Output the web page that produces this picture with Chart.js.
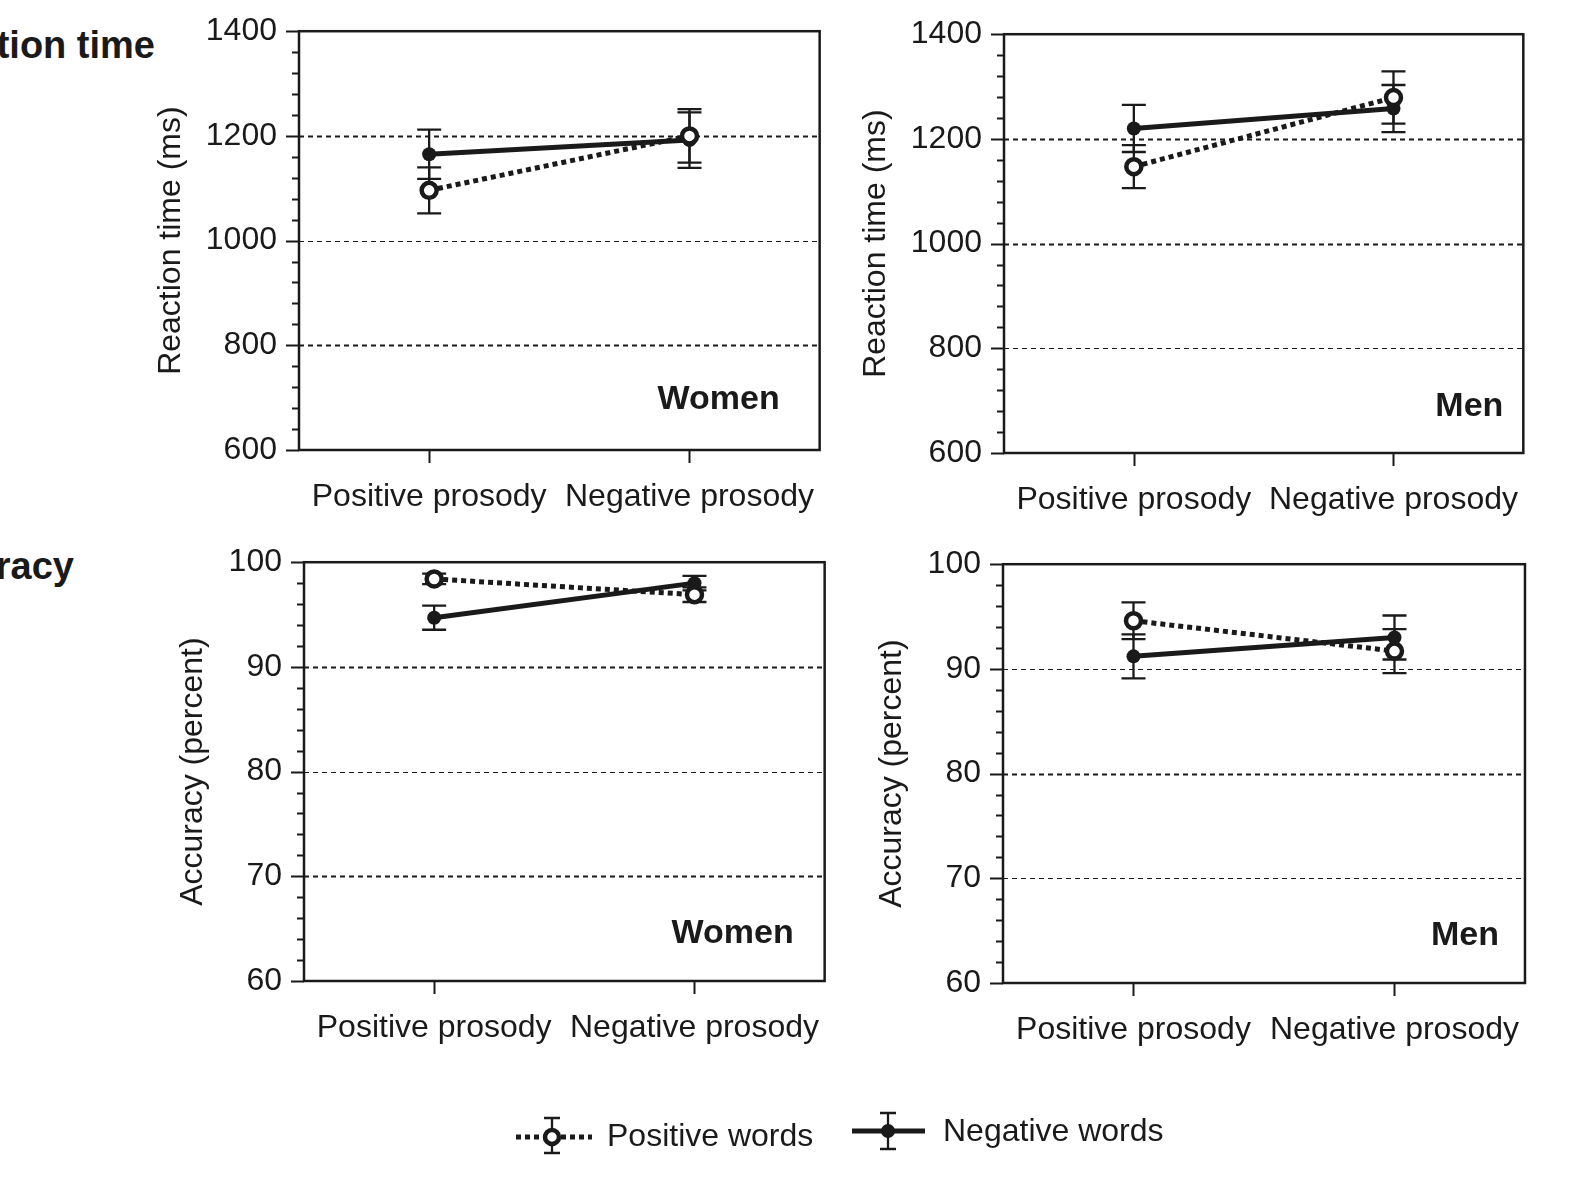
<!DOCTYPE html>
<html>
<head>
<meta charset="utf-8">
<title>Reaction time and accuracy by prosody</title>
<script src="https://cdn.jsdelivr.net/npm/chart.js@4.4.1/dist/chart.umd.min.js"></script>
<style>
    html, body {
        margin: 0;
        padding: 0;
        background: #fff;
    }
    body {
        position: relative;
        width: 1591px;
        height: 1197px;
        overflow: hidden;
        font-family: 'Liberation Sans', Arial, Helvetica, sans-serif;
        color: #1a1a1a;
    }
    canvas { position: absolute; }
    .row-title {
        position: absolute;
        white-space: nowrap;
        font-weight: bold;
        font-size: 38px;
        line-height: 38px;
        text-align: right;
    }
    .legend-text {
        position: absolute;
        white-space: nowrap;
        font-size: 32px;
        line-height: 32px;
    }
</style>
</head>
<body>

<div class="row-title" style="right:1436px; top:26px;">Reaction time</div>
<div class="row-title" style="right:1517px; top:547px;">Accuracy</div>

<canvas id="womenRt"></canvas>
<canvas id="menRt"></canvas>
<canvas id="womenAcc"></canvas>
<canvas id="menAcc"></canvas>

<canvas id="legend" width="450" height="70" style="left:500px; top:1100px;"></canvas>
<div class="legend-text" style="left:607px; top:1119px;">Positive words</div>
<div class="legend-text" style="left:943px; top:1114px;">Negative words</div>

<script>
// Data (means with error bars)
const categories = ['Positive prosody', 'Negative prosody'];
const seriesNames = ['Positive words', 'Negative words'];

// Reaction time (ms)
const womenRtPositive = [1096, 1200];
const womenRtPositiveErr = [44, 51];
const womenRtNegative = [1165, 1192];
const womenRtNegativeErr = [47, 53];

const menRtPositive = [1147, 1279];
const menRtPositiveErr = [41, 50];
const menRtNegative = [1220, 1258];
const menRtNegativeErr = [45, 45];

// Accuracy (percent)
const womenAccPositive = [98.4, 96.9];
const womenAccPositiveErr = [0.5, 0.7];
const womenAccNegative = [94.7, 98.0];
const womenAccNegativeErr = [1.15, 0.7];

const menAccPositive = [94.6, 91.7];
const menAccPositiveErr = [1.75, 2.1];
const menAccNegative = [91.2, 93.0];
const menAccNegativeErr = [2.1, 2.1];

// Axis ticks
const rtTicks = [600, 800, 1000, 1200, 1400];
const rtMinorStep = 40;
const accTicks = [60, 70, 80, 90, 100];
const accMinorStep = 2;

const INK = '#1a1a1a';
const FONT = "'Liberation Sans', Arial, Helvetica, sans-serif";
const FONT_SIZE = 32;

Chart.defaults.font.family = FONT;
Chart.defaults.color = INK;

// Frame, dashed grid, tick marks, error bars and the panel label
const panelPlugin = {
    id: 'panel',
    beforeDatasetsDraw(chart, args, opts) {
        const { ctx, chartArea: a, scales: { y } } = chart;
        ctx.save();
        ctx.strokeStyle = INK;

        // dashed grid lines at the inner major ticks
        ctx.setLineDash([5, 4]);
        opts.gridValues.forEach((v, i) => {
            const py = Math.round(y.getPixelForValue(v)) + 0.5;
            ctx.lineWidth = opts.gridWidths[i];
            ctx.beginPath();
            ctx.moveTo(a.left, py);
            ctx.lineTo(a.right, py);
            ctx.stroke();
        });
        ctx.setLineDash([]);

        // error bars under the markers
        ctx.lineWidth = 2.3;
        chart.data.datasets.forEach((ds, d) => {
            const meta = chart.getDatasetMeta(d);
            meta.data.forEach((pt, i) => {
                const top = y.getPixelForValue(ds.data[i] + ds.errors[i]);
                const bot = y.getPixelForValue(ds.data[i] - ds.errors[i]);
                ctx.beginPath();
                ctx.moveTo(pt.x, top);
                ctx.lineTo(pt.x, bot);
                ctx.moveTo(pt.x - 12, top);
                ctx.lineTo(pt.x + 12, top);
                ctx.moveTo(pt.x - 12, bot);
                ctx.lineTo(pt.x + 12, bot);
                ctx.stroke();
            });
        });
        ctx.restore();
    },
    afterDraw(chart, args, opts) {
        const { ctx, chartArea: a, scales: { x, y } } = chart;
        ctx.save();
        ctx.strokeStyle = INK;
        ctx.lineWidth = 2.5;
        ctx.strokeRect(a.left, a.top, a.right - a.left, a.bottom - a.top);

        // y tick marks, major and minor
        ctx.lineWidth = 2;
        ctx.beginPath();
        for (let v = y.min; v <= y.max + 1e-9; v += opts.minorStep) {
            const py = Math.round(y.getPixelForValue(v)) + 0.5;
            const major = opts.majorTicks.some(t => Math.abs(t - v) < 1e-6);
            ctx.moveTo(a.left, py);
            ctx.lineTo(a.left - (major ? 13 : 7), py);
        }
        // x tick marks at the categories
        x.ticks.forEach((t, i) => {
            const px = Math.round(x.getPixelForTick(i)) + 0.5;
            ctx.moveTo(px, a.bottom);
            ctx.lineTo(px, a.bottom + 13);
        });
        ctx.stroke();

        // panel label (Women / Men)
        ctx.fillStyle = INK;
        ctx.font = 'bold 34px ' + FONT;
        ctx.textAlign = 'right';
        ctx.textBaseline = 'middle';
        ctx.fillText(opts.label, a.right - opts.labelDx, a.bottom - opts.labelDy);
        ctx.restore();
    }
};

function panelConfig(p, xAxisH) {
    return {
        type: 'line',
        data: {
            labels: categories,
            datasets: [{
                label: seriesNames[0],
                data: p.positive,
                errors: p.positiveErr,
                borderColor: INK,
                borderWidth: 5,
                borderDash: [5, 4],
                borderCapStyle: 'butt',
                pointStyle: 'circle',
                pointRadius: 7.5,
                pointBorderWidth: 4.5,
                pointBorderColor: INK,
                pointBackgroundColor: '#fff',
                tension: 0,
                fill: false
            }, {
                label: seriesNames[1],
                data: p.negative,
                errors: p.negativeErr,
                borderColor: INK,
                borderWidth: 5,
                pointStyle: 'circle',
                pointRadius: 7,
                pointBorderWidth: 0,
                pointBackgroundColor: INK,
                tension: 0,
                fill: false
            }]
        },
        options: {
            responsive: false,
            animation: false,
            events: [],
            layout: { padding: 0 },
            plugins: {
                legend: { display: false },
                tooltip: { enabled: false },
                panel: {
                    gridValues: p.ticks.slice(1, -1),
                    gridWidths: p.gridWidths,
                    majorTicks: p.ticks,
                    minorStep: p.minorStep,
                    label: p.label,
                    labelDx: p.labelDx,
                    labelDy: p.labelDy
                }
            },
            scales: {
                x: {
                    type: 'category',
                    offset: true,
                    grid: { display: false, drawTicks: false },
                    border: { display: false },
                    ticks: {
                        font: { size: FONT_SIZE },
                        color: INK,
                        padding: 28,
                        autoSkip: false,
                        maxRotation: 0,
                        minRotation: 0
                    },
                    afterFit: (s) => { s.height = xAxisH; }
                },
                y: {
                    type: 'linear',
                    min: p.ticks[0],
                    max: p.ticks[p.ticks.length - 1],
                    grid: { display: false, drawTicks: false },
                    border: { display: false },
                    ticks: {
                        stepSize: p.ticks[1] - p.ticks[0],
                        font: { size: FONT_SIZE },
                        color: INK,
                        padding: 22,
                        callback: (v) => String(v)
                    },
                    title: {
                        display: true,
                        text: p.yTitle,
                        font: { size: FONT_SIZE },
                        color: INK,
                        padding: { top: 4, bottom: 4 }
                    },
                    afterFit: (s) => { s.width = p.yw; }
                }
            }
        },
        plugins: [panelPlugin]
    };
}

// Build the chart, then rebuild with a canvas size that puts the plot box
// exactly where the reference has it (the scales add their own label padding).
function makePanel(canvasId, p) {
    const xAxisH = 75;
    const plotW = p.plot.r - p.plot.l;
    const plotH = p.plot.b - p.plot.t;
    const canvas = document.getElementById(canvasId);
    let w = p.yw + plotW + 40;
    let h = plotH + xAxisH + 60;
    let chart = null;

    for (let pass = 0; pass < 4; pass++) {
        if (chart) chart.destroy();
        canvas.width = w;
        canvas.height = h;
        chart = new Chart(canvas, panelConfig(p, xAxisH));
        const a = chart.chartArea;
        const dw = plotW - (a.right - a.left);
        const dh = plotH - (a.bottom - a.top);
        if (Math.abs(dw) < 0.5 && Math.abs(dh) < 0.5) break;
        w = Math.round(w + dw);
        h = Math.round(h + dh);
    }

    const a = chart.chartArea;
    canvas.style.left = Math.round(p.plot.l - a.left) + 'px';
    canvas.style.top = Math.round(p.plot.t - a.top) + 'px';
    return chart;
}

makePanel('womenRt', {
    plot: { l: 299, r: 820, t: 31, b: 450 }, yw: 151,
    positive: womenRtPositive, positiveErr: womenRtPositiveErr,
    negative: womenRtNegative, negativeErr: womenRtNegativeErr,
    ticks: rtTicks, minorStep: rtMinorStep, gridWidths: [1.8, 1, 1.8],
    yTitle: 'Reaction time (ms)', label: 'Women', labelDx: 40, labelDy: 50
});

makePanel('menRt', {
    plot: { l: 1004, r: 1524, t: 34, b: 453 }, yw: 151,
    positive: menRtPositive, positiveErr: menRtPositiveErr,
    negative: menRtNegative, negativeErr: menRtNegativeErr,
    ticks: rtTicks, minorStep: rtMinorStep, gridWidths: [1, 1.8, 1.8],
    yTitle: 'Reaction time (ms)', label: 'Men', labelDx: 20, labelDy: 46
});

makePanel('womenAcc', {
    plot: { l: 304, r: 826, t: 562, b: 981 }, yw: 134,
    positive: womenAccPositive, positiveErr: womenAccPositiveErr,
    negative: womenAccNegative, negativeErr: womenAccNegativeErr,
    ticks: accTicks, minorStep: accMinorStep, gridWidths: [1.8, 1, 1.8],
    yTitle: 'Accuracy (percent)', label: 'Women', labelDx: 31, labelDy: 47
});

makePanel('menAcc', {
    plot: { l: 1003, r: 1526, t: 564, b: 983 }, yw: 134,
    positive: menAccPositive, positiveErr: menAccPositiveErr,
    negative: menAccNegative, negativeErr: menAccNegativeErr,
    ticks: accTicks, minorStep: accMinorStep, gridWidths: [1, 1.8, 1],
    yTitle: 'Accuracy (percent)', label: 'Men', labelDx: 26, labelDy: 47
});

// Legend symbols
(function drawLegend() {
    const ctx = document.getElementById('legend').getContext('2d');
    ctx.strokeStyle = INK;
    ctx.fillStyle = INK;

    // Positive words: dotted line, error bar, open circle
    ctx.lineWidth = 5;
    ctx.setLineDash([5, 4]);
    ctx.beginPath();
    ctx.moveTo(16, 37);
    ctx.lineTo(92, 37);
    ctx.stroke();
    ctx.setLineDash([]);
    ctx.lineWidth = 2.3;
    ctx.beginPath();
    ctx.moveTo(52, 18); ctx.lineTo(52, 53);
    ctx.moveTo(44, 18); ctx.lineTo(60, 18);
    ctx.moveTo(44, 53); ctx.lineTo(60, 53);
    ctx.stroke();
    ctx.lineWidth = 4.5;
    ctx.beginPath();
    ctx.arc(52, 37, 7, 0, Math.PI * 2);
    ctx.fillStyle = '#fff';
    ctx.fill();
    ctx.stroke();

    // Negative words: solid line, error bar, filled circle
    ctx.fillStyle = INK;
    ctx.lineWidth = 5;
    ctx.beginPath();
    ctx.moveTo(352, 31);
    ctx.lineTo(425, 31);
    ctx.stroke();
    ctx.lineWidth = 2.3;
    ctx.beginPath();
    ctx.moveTo(388, 13); ctx.lineTo(388, 49);
    ctx.moveTo(380, 13); ctx.lineTo(396, 13);
    ctx.moveTo(380, 49); ctx.lineTo(396, 49);
    ctx.stroke();
    ctx.beginPath();
    ctx.arc(388, 31, 7, 0, Math.PI * 2);
    ctx.fill();
})();
</script>
</body>
</html>
